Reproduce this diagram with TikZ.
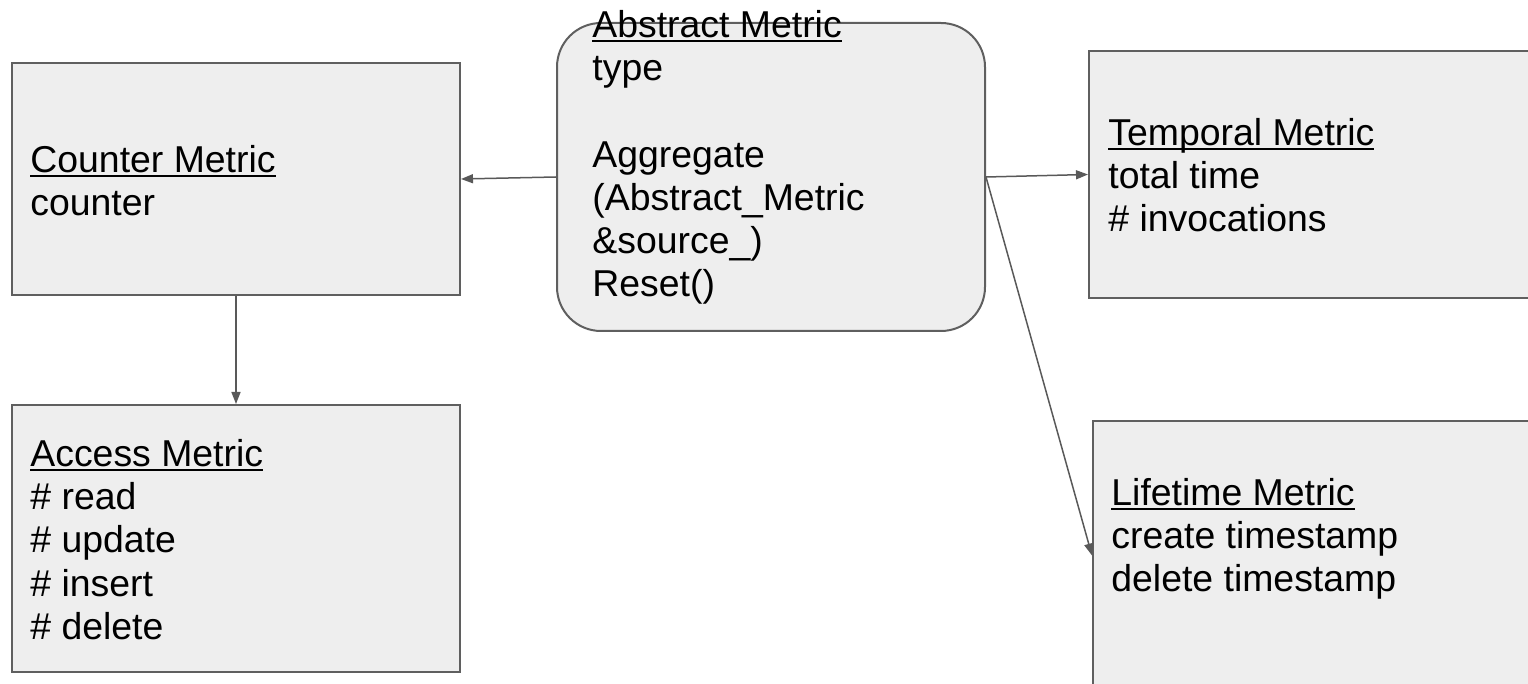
\documentclass[tikz,border=0pt]{standalone}
\usepackage{fontspec}
\setmainfont{Liberation Sans}
\usetikzlibrary{arrows.meta,fit}
\definecolor{boxfill}{HTML}{EEEEEE}
\definecolor{boxline}{HTML}{5F5F5F}
\definecolor{arrowline}{HTML}{595959}
\newcommand\ulbox[1]{\setbox0\hbox{#1}\rlap{\rule[-2.2pt]{\wd0}{1pt}}\box0}
\tikzset{
  box/.style={draw=boxline, fill=boxfill, line width=1pt, inner sep=0pt, rectangle},
  roundbox/.style={box, rounded corners=22pt},
  label text/.style={anchor=north west, inner sep=0pt, align=left,
    font=\fontsize{18.7}{21.6}\selectfont},
  link/.style={draw=arrowline, line width=0.75pt, -{Triangle[length=6pt,width=4.5pt]}}
}
\begin{document}
\begin{tikzpicture}[x=0.5pt, y=-0.5pt]
\useasboundingbox (0,0) rectangle (1528,684);
\clip (0,0) rectangle (1528,684);
% boxes
\node[box, fit={(12,63) (460,295)}] (counter) {};
\node[box, fit={(12,405) (460,672)}] (access) {};
\node[roundbox, fit={(557,23) (985,331)}] (abstract) {};
\node[box, fit={(1089,51) (1560,298)}] (temporal) {};
\node[box, fit={(1093,421) (1560,690)}] (lifetime) {};
% texts
\node[label text] (counterT) at (30,145) {\ulbox{Counter Metric}\\counter};
\node[label text] (accessT) at (30,439) {\ulbox{Access Metric}\\\# read\\\# update\\\# insert\\\# delete};
\node[label text] (abstractT) at (592,10) {\ulbox{Abstract Metric}\\type\\\mbox{}\\Aggregate\\(Abstract\_Metric\\\&source\_)\\Reset()};
\node[label text] (temporalT) at (1108,118) {\ulbox{Temporal Metric}\\total time\\\# invocations};
\node[label text] (lifetimeT) at (1111,478) {\ulbox{Lifetime Metric}\\create timestamp\\delete timestamp};
% connectors
\draw[link] (abstract.west) -- (counter.east);
\draw[link] (counter.south) -- (access.north);
\draw[link] (abstract.east) -- (temporal.west);
\draw[link] (abstract.east) -- (lifetime.west);
\end{tikzpicture}
\end{document}
